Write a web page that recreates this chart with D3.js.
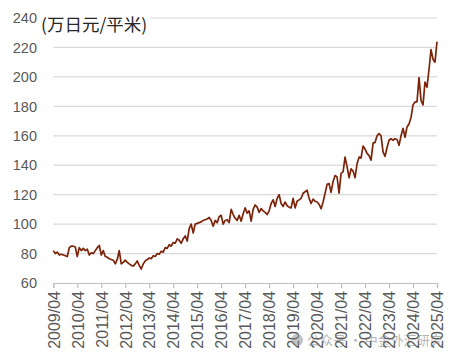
<!DOCTYPE html>
<html>
<head>
<meta charset="utf-8">
<script src="https://cdn.jsdelivr.net/npm/d3@7"></script>
<style>
  body { margin: 0; background: #fff; }
  svg { display: block; font-family: "Liberation Sans", Arial, sans-serif; }
</style>
</head>
<body>
<svg id="chart" width="456" height="364"></svg>
<script>
// monthly price, 2009/04 .. 2025/04
var price = [
  82, 80, 81, 79, 79.5, 79, 78.5, 78, 84, 85, 85, 84.5,
  78, 84, 82, 83.5, 82, 83, 79, 80.5, 80, 82, 84, 85.5,
  79, 82, 78, 77.5, 76.5, 76, 75.5, 73, 76, 82, 73, 74,
  75.5, 74, 73, 72, 71.5, 73, 75, 72, 69.5, 73, 75, 76,
  77, 76.5, 78.5, 78, 80, 79.5, 81.5, 81, 84, 83.5, 86, 85,
  87.5, 87, 90, 89, 87, 90, 92, 88.5, 97, 100, 94, 100,
  100.5, 101, 101.5, 102.5, 103, 103.5, 104.5, 102.5, 98.5, 102.5, 101, 105,
  106, 100, 102.5, 103, 101, 110, 106.5, 104, 102.5, 106, 102, 107,
  111, 107.5, 109, 102, 110, 113, 111.5, 108, 110.5, 109, 108, 106.5,
  109, 114, 116.5, 112, 117.5, 120, 114, 112, 115, 112.5, 111.5, 111,
  117.5, 111, 115.5, 116.5, 117.5, 121, 122, 123, 117.5, 114, 117, 115.5,
  115, 113.5, 110.5, 115, 121, 127, 127.5, 121.5, 129, 133, 132, 121,
  134.5, 135.5, 145.5, 139, 131.5, 137.5, 136, 131.5, 141, 145.5, 145, 153,
  151, 148, 146.5, 143.5, 155, 155.5, 160, 161.5, 160, 149, 146, 152,
  157, 158, 157, 158, 157.5, 153.5, 160, 165, 159, 166, 168, 172.5,
  181, 183, 183, 199.5, 184, 181, 196.5, 193, 205, 218.5, 212, 210,
  224
];

var tickLabels = ["2009/04","2010/04","2011/04","2012/04","2013/04","2014/04","2015/04","2016/04",
  "2017/04","2018/04","2019/04","2020/04","2021/04","2022/04","2023/04","2024/04","2025/04"];
var yTicks = [60, 80, 100, 120, 140, 160, 180, 200, 220, 240];

var svg = d3.select("#chart");

var x = d3.scaleLinear().domain([0, price.length - 1]).range([53.3, 437]);
var y = d3.scaleLinear().domain([60, 240]).range([283, 18]);

// gridlines
svg.append("g").selectAll("line")
  .data(yTicks.filter(function(d){ return d > 60; }))
  .enter().append("line")
  .attr("x1", x(0)).attr("x2", x(price.length - 1))
  .attr("y1", function(d){ return y(d); })
  .attr("y2", function(d){ return y(d); })
  .attr("stroke", "#d9d9d9")
  .attr("stroke-width", 1.2);

// y labels
svg.append("g").selectAll("text")
  .data(yTicks)
  .enter().append("text")
  .attr("x", 37)
  .attr("y", function(d){ return y(d); })
  .attr("dy", "0.36em")
  .attr("text-anchor", "end")
  .attr("fill", "#595959")
  .style("font-size", "14.5px")
  .text(function(d){ return d; });

// x axis
var xAxis = d3.axisBottom(x)
  .tickValues(tickLabels.map(function(d, i){ return i * 12; }))
  .tickSize(5)
  .tickFormat(function(d, i){ return tickLabels[i]; });

var gx = svg.append("g")
  .attr("transform", "translate(0," + y(60) + ")")
  .call(xAxis);
gx.select(".domain").attr("stroke", "#bfbfbf").attr("stroke-width", 1.2);
gx.selectAll(".tick line").attr("stroke", "#bfbfbf").attr("stroke-width", 1.2);
gx.selectAll(".tick text")
  .attr("fill", "#595959")
  .style("font-size", "16px")
  .style("font-family", "Liberation Sans, Arial, sans-serif")
  .attr("text-anchor", "end")
  .attr("transform", "rotate(-90)")
  .attr("x", -8)
  .attr("y", 0)
  .attr("dy", "0.36em");

// line
var line = d3.line()
  .x(function(d, i){ return x(i); })
  .y(function(d){ return y(d); });

svg.append("path")
  .datum(price)
  .attr("d", line)
  .attr("fill", "none")
  .attr("stroke", "#7b2409")
  .attr("stroke-width", 1.7)
  .attr("stroke-linejoin", "round");

// unit title
svg.append("rect")
  .attr("x", 40).attr("y", 12).attr("width", 110).attr("height", 24)
  .attr("fill", "#fff");
svg.append("text")
  .attr("x", 41)
  .attr("y", 31)
  .attr("fill", "#262626")
  .style("font-family", "Noto Sans CJK SC, sans-serif")
  .style("font-size", "17.5px")
  .text("(万日元/平米)");

// watermark
svg.append("circle")
  .attr("cx", 297).attr("cy", 340).attr("r", 6)
  .attr("fill", "#888").attr("opacity", 0.5);
svg.append("text")
  .attr("x", 307)
  .attr("y", 345)
  .attr("fill", "#777")
  .attr("opacity", 0.55)
  .style("font-family", "Noto Sans CJK SC, sans-serif")
  .style("font-size", "13px")
  .text("公众号 · 中金外汇研究");
</script>
</body>
</html>
